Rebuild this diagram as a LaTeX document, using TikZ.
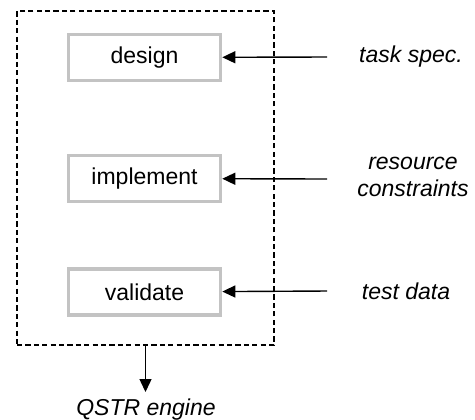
\documentclass[tikz,border=0pt]{standalone}
\usepackage{fontspec}
\setmainfont{Liberation Sans}
\usetikzlibrary{arrows.meta}
\definecolor{boxgray}{HTML}{C3C3C3}
\begin{document}
\begin{tikzpicture}[x=0.5pt,y=-0.5pt,
  stage/.style={draw=boxgray, line width=1.8pt, minimum width=76pt, minimum height=23pt,
    inner sep=0pt, font=\fontsize{11.5}{13.5}\selectfont},
  label/.style={font=\fontsize{11.5}{13.5}\selectfont\itshape, align=center, inner sep=0pt},
  feed/.style={line width=0.7pt, -{Triangle[length=6.5pt,width=6pt]}},
  frame/.style={draw, dashed, dash pattern=on 2.6pt off 1.6pt, line width=0.6pt,
    minimum width=128.5pt, minimum height=167pt, inner sep=0pt}]
  \useasboundingbox (0,0) rectangle (475,419);

  % enclosing engine boundary
  \node[frame] (engine) at (145.5,178) {};

  % the three stages
  \node[stage] (design) at (144.5,57.5) {design};
  \node[stage] (implement) at (144.5,178.5) {implement};
  \node[stage] (validate) at (144.5,292) {validate};

  % external inputs
  \node[label] (spec) at (411,57) {task spec.};
  \node[label] (res) at (413,177) {resource\\constraints};
  \node[label] (data) at (406,291) {test data};
  \coordinate (s1) at (327,57);
  \coordinate (s2) at (327,179);
  \coordinate (s3) at (327,291);
  \draw[feed] (s1) -- (design);
  \draw[feed] (s2) -- (implement);
  \draw[feed] (s3) -- (validate);

  % output
  \node[label] (out) at (146,410) {QSTR engine};
  \coordinate (o) at (145.5,392);
  \draw[feed] (engine.south) -- (o);
\end{tikzpicture}
\end{document}
